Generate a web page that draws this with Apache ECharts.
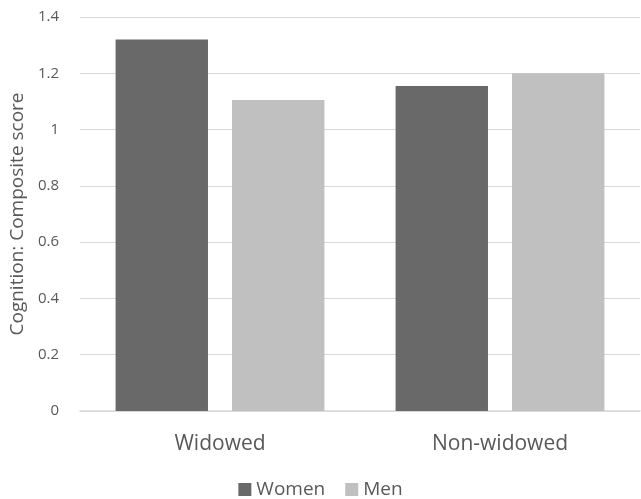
<!DOCTYPE html>
<html>
<head>
<meta charset="utf-8">
<script src="https://cdn.jsdelivr.net/npm/echarts@6/dist/echarts.min.js"></script>
<style>html,body{margin:0;padding:0;background:#fff}#c{width:641px;height:499px}</style>
</head>
<body>
<div id="c"></div>
<script>
const categories = ['Widowed', 'Non-widowed'];
const seriesNames = ['Women', 'Men'];
const women = [1.32, 1.155];
const men = [1.105, 1.20];
const yTicks = { min: 0, max: 1.4, interval: 0.2 };

const chart = echarts.init(document.getElementById('c'), null, { renderer: 'canvas' });
const font = '"Open Sans", sans-serif';
chart.setOption({
  animation: false,
  backgroundColor: '#fff',
  grid: { left: 80, right: 1, top: 17, bottom: 88, containLabel: false },
  legend: {
    data: seriesNames,
    bottom: 0,
    left: 'center',
    padding: [0, 5, 0, 5],
    itemWidth: 13,
    itemHeight: 13,
    itemGap: 20,
    icon: 'rect',
    textStyle: { color: '#595959', fontSize: 19, fontFamily: font }
  },
  xAxis: {
    type: 'category',
    data: categories,
    axisTick: { show: false },
    axisLine: { lineStyle: { color: '#d9d9d9', width: 1.5 } },
    axisLabel: { color: '#595959', fontSize: 21, fontFamily: font, margin: 23 }
  },
  yAxis: {
    type: 'value',
    min: yTicks.min, max: yTicks.max, interval: yTicks.interval,
    name: 'Cognition: Composite score',
    nameLocation: 'middle',
    nameGap: 49,
    nameTextStyle: { color: '#595959', fontSize: 19, fontFamily: font },
    axisLine: { show: false },
    axisTick: { show: false },
    splitLine: { lineStyle: { color: '#d9d9d9', width: 1.2 } },
    axisLabel: {
      color: '#595959', fontSize: 15, fontFamily: font, margin: 21,
      formatter: v => (Math.round(v * 10) / 10).toString()
    }
  },
  series: [
    { name: 'Women', type: 'bar', data: women, barWidth: '33%', barGap: '26%', itemStyle: { color: '#696969' } },
    { name: 'Men', type: 'bar', data: men, barWidth: '33%', barGap: '26%', itemStyle: { color: '#c0c0c0' } }
  ]
});
</script>
</body>
</html>
